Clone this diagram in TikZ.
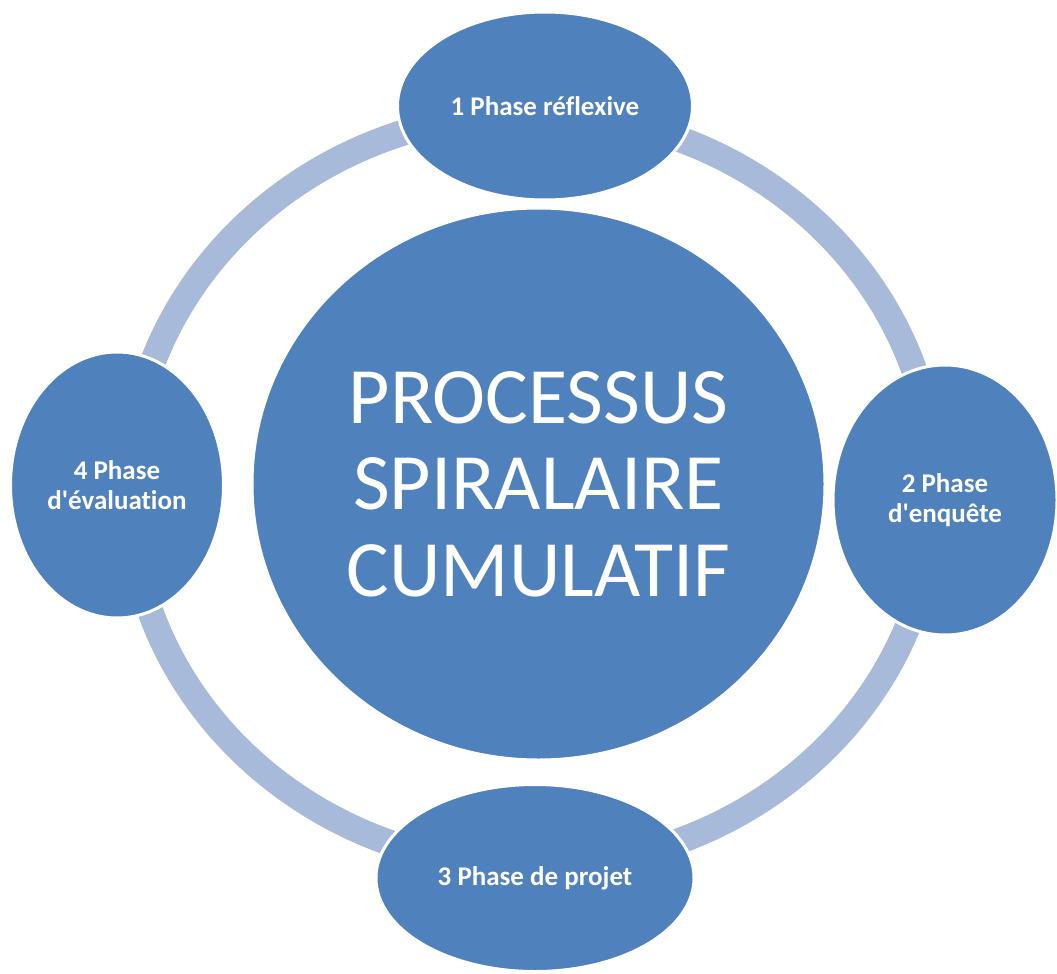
\documentclass[tikz,border=0pt]{standalone}
\usepackage{fontspec}
\setmainfont{Carlito}[Ligatures={NoCommon}]
\usetikzlibrary{shapes.geometric}
\definecolor{nodeblue}{RGB}{79,129,189}
\definecolor{ringblue}{RGB}{167,186,217}
\tikzset{
  phase/.style={ellipse, fill=nodeblue, draw=white, line width=3pt, inner sep=0pt,
    text=white, align=center, font=\fontsize{27}{30}\selectfont\bfseries},
  core/.style={ellipse, fill=nodeblue, draw=white, line width=3pt, inner sep=0pt,
    text=white, align=center, font=\fontsize{80}{86.5}\selectfont},
  ringline/.style={draw=ringblue, line width=26pt}
}
\begin{document}
\begin{tikzpicture}[x=1pt,y=-1pt]
\useasboundingbox[fill=white] (0,0) rectangle (1057,974);
\coordinate (rc) at (532,490);
\draw[ringline] (rc) ellipse [x radius=403, y radius=377];
\node[core, minimum width=573pt, minimum height=552pt] (core) at (538.5,484)
  {PROCESSUS\\SPIRALAIRE\\CUMULATIF};
\node[phase, minimum width=295pt, minimum height=188pt] (p1) at (545,106) {1 Phase réflexive};
\node[phase, minimum width=224pt, minimum height=270pt] (p2) at (945,500) {2 Phase\\d\textquotesingle enquête};
\node[phase, minimum width=318pt, minimum height=187pt] (p3) at (535,878) {3 Phase de projet};
\node[phase, minimum width=213pt, minimum height=266pt] (p4) at (117,485) {4 Phase\\d\textquotesingle évaluation};
\end{tikzpicture}
\end{document}
